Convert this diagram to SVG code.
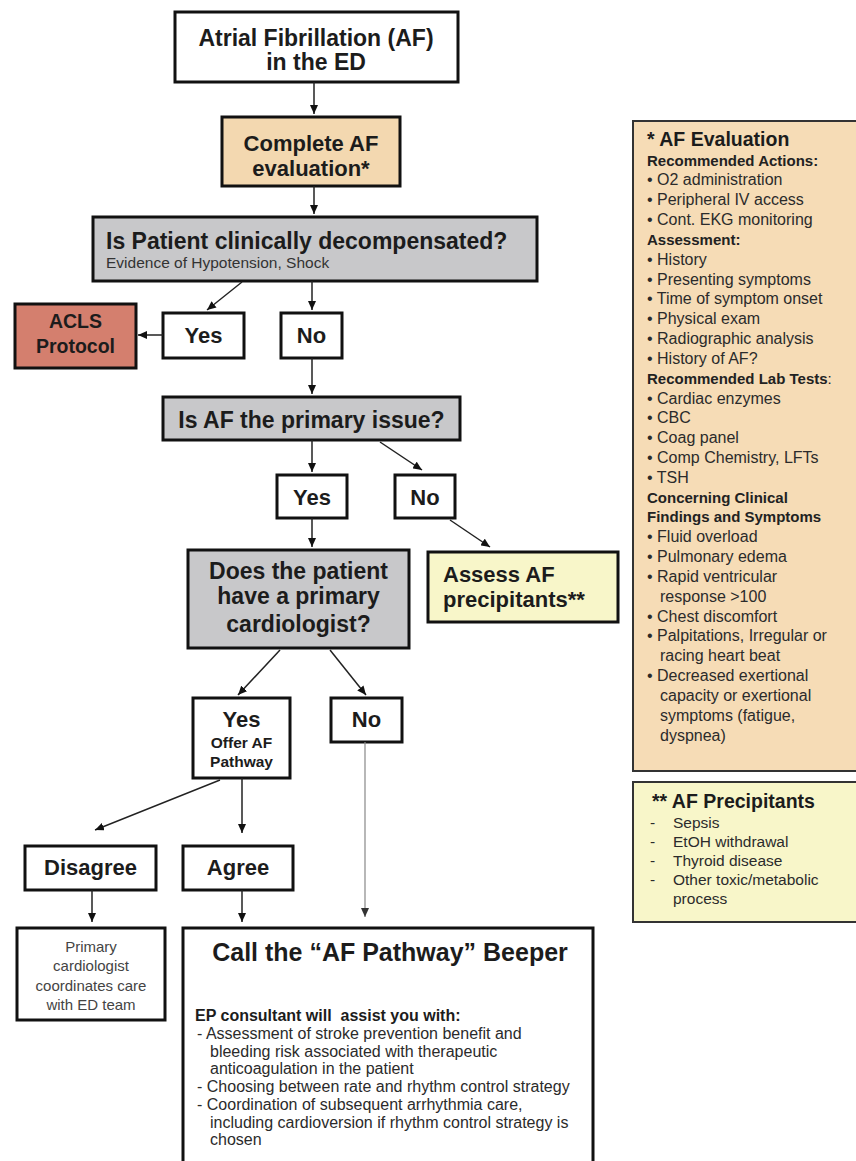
<svg xmlns="http://www.w3.org/2000/svg" width="856" height="1161" viewBox="0 0 856 1161">
<style>
text{font-family:"Liberation Sans",Arial,sans-serif;fill:#1c1c1c}
.box{stroke:#111;stroke-width:3}
.w{fill:#fff}.g{fill:#c8c8ca}.t{fill:#f3d8b0}.y{fill:#f8f6c9}.r{fill:#d47f6e}
.b23{font-size:23px;font-weight:bold}
.b22{font-size:22px;font-weight:bold}
.c{text-anchor:middle}
.pn{font-size:16px;fill:#2b2b2b}
.ph{font-size:15px;font-weight:bold;fill:#222}
.cn line{stroke:#222;stroke-width:1.5;marker-end:url(#ah)}
</style>
<defs>
<marker id="ah" markerWidth="9" markerHeight="8" refX="9" refY="4" orient="auto" markerUnits="userSpaceOnUse"><path d="M0,0 L9,4 L0,8 z" fill="#111"/></marker>
<marker id="ahg" markerWidth="9" markerHeight="8" refX="9" refY="4" orient="auto" markerUnits="userSpaceOnUse"><path d="M0,0 L9,4 L0,8 z" fill="#333"/></marker>
</defs>
<rect width="856" height="1161" fill="#fff"/>

<g id="start"><rect class="box w" x="175" y="12" width="283" height="70"/>
<text class="b23 c" x="316" y="46">Atrial Fibrillation (AF)</text>
<text class="b23 c" x="316" y="70">in the ED</text></g>

<g id="complete"><rect class="box t" x="222" y="117" width="178" height="69"/>
<text class="b22 c" x="311" y="151">Complete AF</text>
<text class="b22 c" x="311" y="176">evaluation*</text></g>

<g id="decomp"><rect class="box g" x="93" y="217" width="444" height="64"/>
<text class="b23" x="106" y="249">Is Patient clinically decompensated?</text>
<text x="106" y="268" style="font-size:15.5px;fill:#333">Evidence of Hypotension, Shock</text></g>

<g id="acls"><rect class="box r" x="15" y="304" width="121" height="64"/>
<text class="c" x="75.5" y="328" style="font-size:19.5px;font-weight:bold">ACLS</text>
<text class="c" x="75.5" y="353" style="font-size:19.5px;font-weight:bold">Protocol</text></g>

<g id="yes1"><rect class="box w" x="163" y="313" width="81" height="45"/>
<text class="b22 c" x="203.5" y="343">Yes</text></g>
<g id="no1"><rect class="box w" x="281" y="313" width="61" height="45"/>
<text class="b22 c" x="311.5" y="343">No</text></g>

<g id="primary"><rect class="box g" x="163" y="397" width="297" height="43"/>
<text class="b23 c" x="311.5" y="428">Is AF the primary issue?</text></g>

<g id="yes2"><rect class="box w" x="277" y="475" width="70" height="43"/>
<text class="b22 c" x="312" y="505">Yes</text></g>
<g id="no2"><rect class="box w" x="395" y="475" width="60" height="43"/>
<text class="b22 c" x="425" y="505">No</text></g>

<g id="cardio"><rect class="box g" x="188" y="550" width="221" height="98"/>
<text class="b23 c" x="298.5" y="579">Does the patient</text>
<text class="b23 c" x="298.5" y="604">have a primary</text>
<text class="b23 c" x="298.5" y="632">cardiologist?</text></g>

<g id="assess"><rect class="box y" x="428" y="552" width="190" height="70"/>
<text class="b22" x="443" y="582">Assess AF</text>
<text class="b22" x="443" y="607">precipitants**</text></g>

<g id="yes3"><rect class="box w" x="193" y="698" width="97" height="80"/>
<text class="b22 c" x="241.5" y="727">Yes</text>
<text class="c" x="241.5" y="748" style="font-size:15.5px;font-weight:bold">Offer AF</text>
<text class="c" x="241.5" y="767" style="font-size:15.5px;font-weight:bold">Pathway</text></g>
<g id="no3"><rect class="box w" x="331" y="698" width="71" height="44"/>
<text class="b22 c" x="366.5" y="727">No</text></g>

<g id="disagree"><rect class="box w" x="25" y="846" width="131" height="44"/>
<text class="b22 c" x="90.5" y="875">Disagree</text></g>
<g id="agree"><rect class="box w" x="183" y="846" width="110" height="44"/>
<text class="b22 c" x="238" y="875">Agree</text></g>

<g id="coord"><rect class="box w" x="17" y="928" width="148" height="92"/>
<g style="font-size:15px" class="c">
<text x="91" y="952" style="fill:#444">Primary</text>
<text x="91" y="971" style="fill:#444">cardiologist</text>
<text x="91" y="991" style="fill:#444">coordinates care</text>
<text x="91" y="1010" style="fill:#444">with ED team</text></g></g>

<g id="beeper"><rect class="box w" x="183" y="928" width="410" height="250"/>
<text class="c" x="390" y="961" style="font-size:25px;font-weight:bold">Call the “AF Pathway” Beeper</text>
<g style="font-size:16px">
<text x="195" y="1021" style="font-weight:bold">EP consultant will&#160; assist you with:</text>
<text x="197" y="1039" style="fill:#2b2b2b">- Assessment of stroke prevention benefit and</text>
<text x="210" y="1057" style="fill:#2b2b2b">bleeding risk associated with therapeutic</text>
<text x="210" y="1074" style="fill:#2b2b2b">anticoagulation in the patient</text>
<text x="197" y="1092" style="fill:#2b2b2b">- Choosing between rate and rhythm control strategy</text>
<text x="197" y="1110" style="fill:#2b2b2b">- Coordination of subsequent arrhythmia care,</text>
<text x="210" y="1128" style="fill:#2b2b2b">including cardioversion if rhythm control strategy is</text>
<text x="210" y="1145" style="fill:#2b2b2b">chosen</text></g></g>

<g id="eval"><rect x="633" y="121" width="240" height="650" fill="#f6dcb6" stroke="#333" stroke-width="2"/>
<text x="647" y="146" style="font-size:19.5px;font-weight:bold">* AF Evaluation</text>
<text class="ph" x="647" y="165.5">Recommended Actions:</text>
<text class="pn" x="647" y="185.3">• O2 administration</text>
<text class="pn" x="647" y="205.2">• Peripheral IV access</text>
<text class="pn" x="647" y="225">• Cont. EKG monitoring</text>
<text class="ph" x="647" y="244.8">Assessment:</text>
<text class="pn" x="647" y="264.7">• History</text>
<text class="pn" x="647" y="284.5">• Presenting symptoms</text>
<text class="pn" x="647" y="304.3">• Time of symptom onset</text>
<text class="pn" x="647" y="324.1">• Physical exam</text>
<text class="pn" x="647" y="344">• Radiographic analysis</text>
<text class="pn" x="647" y="363.8">• History of AF?</text>
<text class="ph" x="647" y="383.6">Recommended Lab Tests<tspan style="font-weight:normal">:</tspan></text>
<text class="pn" x="647" y="403.5">• Cardiac enzymes</text>
<text class="pn" x="647" y="423.3">• CBC</text>
<text class="pn" x="647" y="443.1">• Coag panel</text>
<text class="pn" x="647" y="463">• Comp Chemistry, LFTs</text>
<text class="pn" x="647" y="482.8">• TSH</text>
<text class="ph" x="647" y="502.6">Concerning Clinical</text>
<text class="ph" x="647" y="522.4">Findings and Symptoms</text>
<text class="pn" x="647" y="542.3">• Fluid overload</text>
<text class="pn" x="647" y="562.1">• Pulmonary edema</text>
<text class="pn" x="647" y="581.9">• Rapid ventricular</text>
<text class="pn" x="660" y="601.8">response &gt;100</text>
<text class="pn" x="647" y="621.6">• Chest discomfort</text>
<text class="pn" x="647" y="641.4">• Palpitations, Irregular or</text>
<text class="pn" x="660" y="661.2">racing heart beat</text>
<text class="pn" x="647" y="681.1">• Decreased exertional</text>
<text class="pn" x="660" y="700.9">capacity or exertional</text>
<text class="pn" x="660" y="720.7">symptoms (fatigue,</text>
<text class="pn" x="660" y="740.6">dyspnea)</text></g>

<g id="precip"><rect x="633" y="782" width="240" height="140" fill="#f8f6c9" stroke="#333" stroke-width="2"/>
<text x="652" y="808" style="font-size:19.5px;font-weight:bold">** AF Precipitants</text>
<g style="font-size:15.5px;fill:#2b2b2b">
<text x="650" y="828" style="fill:#2b2b2b">-</text><text x="673" y="828" style="fill:#2b2b2b">Sepsis</text>
<text x="650" y="847" style="fill:#2b2b2b">-</text><text x="673" y="847" style="fill:#2b2b2b">EtOH withdrawal</text>
<text x="650" y="866" style="fill:#2b2b2b">-</text><text x="673" y="866" style="fill:#2b2b2b">Thyroid disease</text>
<text x="650" y="885" style="fill:#2b2b2b">-</text><text x="673" y="885" style="fill:#2b2b2b">Other toxic/metabolic</text>
<text x="673" y="904" style="fill:#2b2b2b">process</text></g></g>

<g id="connectors" class="cn">
<line x1="314" y1="82" x2="314" y2="114"/>
<line x1="314" y1="186" x2="314" y2="214"/>
<line x1="242" y1="282" x2="207" y2="310"/>
<line x1="312" y1="281" x2="312" y2="310"/>
<line x1="163" y1="335" x2="138" y2="335"/>
<line x1="312" y1="358" x2="312" y2="394"/>
<line x1="312" y1="440" x2="312" y2="472"/>
<line x1="380" y1="442" x2="422" y2="470"/>
<line x1="312" y1="518" x2="312" y2="547"/>
<line x1="450" y1="520" x2="490" y2="547"/>
<line x1="280" y1="650" x2="238" y2="695"/>
<line x1="330" y1="650" x2="366" y2="695"/>
<line x1="365" y1="742" x2="365" y2="917" style="stroke:#888;stroke-width:1.2;marker-end:url(#ahg)"/>
<line x1="220" y1="780" x2="95" y2="830"/>
<line x1="242" y1="778" x2="242" y2="833"/>
<line x1="92" y1="890" x2="92" y2="922"/>
<line x1="242" y1="890" x2="242" y2="922"/>
</g>
</svg>
